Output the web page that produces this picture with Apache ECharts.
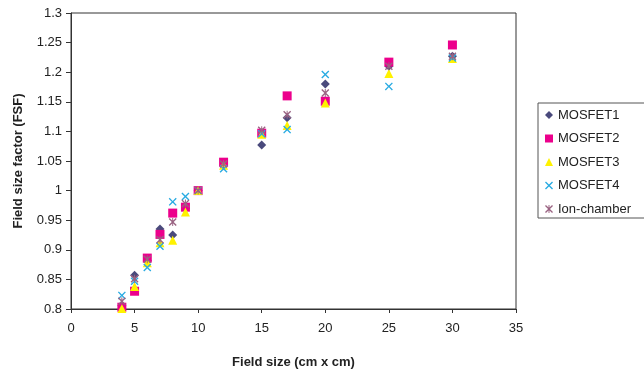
<!DOCTYPE html>
<html>
<head>
<meta charset="utf-8">
<script src="https://cdn.jsdelivr.net/npm/echarts@6/dist/echarts.min.js"></script>
<style>html,body{margin:0;padding:0;background:#fff;}#c{width:644px;height:375px;}</style>
</head>
<body>
<div id="c"></div>
<script>
var fieldSizes = [4, 5, 6, 7, 8, 9, 10, 12, 15, 17, 20, 25, 30];
var mosfet1 = [0.806, 0.857, 0.882, 0.935, 0.925, 0.970, 1.000, 1.042, 1.077, 1.123, 1.180, 1.210, 1.227];
var mosfet2 = [0.803, 0.830, 0.886, 0.926, 0.962, 0.972, 1.000, 1.048, 1.097, 1.160, 1.151, 1.217, 1.246];
var mosfet3 = [0.801, 0.838, 0.878, 0.912, 0.916, 0.964, 1.000, 1.043, 1.095, 1.110, 1.148, 1.198, 1.223];
var mosfet4 = [0.823, 0.847, 0.870, 0.906, 0.981, 0.990, 1.000, 1.037, 1.096, 1.103, 1.196, 1.176, 1.224];
var ionChamber = [0.813, 0.851, 0.884, 0.917, 0.947, 0.978, 1.000, 1.045, 1.102, 1.128, 1.165, 1.210, 1.227];
var seriesNames = ['MOSFET1', 'MOSFET2', 'MOSFET3', 'MOSFET4', 'Ion-chamber'];

function pairs(ys) { return fieldSizes.map(function (x, i) { return [x, ys[i]]; }); }

var xPath = 'path://M0,1.2 L1.2,0 L5,3.8 L8.8,0 L10,1.2 L6.2,5 L10,8.8 L8.8,10 L5,6.2 L1.2,10 L0,8.8 L3.8,5 Z';
var starPath = 'path://M0,1.2 L1.2,0 L5,3.8 L8.8,0 L10,1.2 L6.2,5 L10,8.8 L8.8,10 L5,6.2 L1.2,10 L0,8.8 L3.8,5 Z M4.4,0 L5.6,0 L5.6,10 L4.4,10 Z';

var font = 'Liberation Sans, Arial, sans-serif';
var chart = echarts.init(document.getElementById('c'), null, {renderer: 'canvas'});
function mk(name, data, symbol, size, color) {
  return {name: name, type: 'scatter', data: pairs(data), symbol: symbol, symbolSize: size,
    itemStyle: {color: color, opacity: 1}, emphasis: {disabled: true}};
}
chart.setOption({
  animation: false,
  backgroundColor: '#ffffff',
  grid: {left: 71, right: 128, top: 13, bottom: 66, show: true, borderColor: '#333', borderWidth: 1},
  xAxis: {
    type: 'value', min: 0, max: 35, interval: 5,
    name: 'Field size (cm x cm)', nameLocation: 'middle', nameGap: 47,
    nameTextStyle: {fontFamily: font, fontSize: 13, fontWeight: 'bold', color: '#222'},
    axisLine: {show: true, lineStyle: {color: '#333', width: 1}},
    axisTick: {show: true, inside: false, length: 4, lineStyle: {color: '#333'}},
    axisLabel: {fontFamily: font, fontSize: 13, color: '#222', margin: 13},
    splitLine: {show: false}
  },
  yAxis: {
    type: 'value', min: 0.8, max: 1.3, interval: 0.05,
    name: 'Field size factor (FSF)', nameLocation: 'middle', nameGap: 46, nameRotate: 90,
    nameTextStyle: {fontFamily: font, fontSize: 13, fontWeight: 'bold', color: '#222'},
    axisLine: {show: true, lineStyle: {color: '#333', width: 1}},
    axisTick: {show: true, inside: false, length: 5, lineStyle: {color: '#333'}},
    axisLabel: {fontFamily: font, fontSize: 13, color: '#222', margin: 9,
      formatter: function (v) { return String(Math.round(v * 100) / 100); }},
    splitLine: {show: false}
  },
  legend: {
    orient: 'vertical', left: 538, top: 103,
    width: 140,
    padding: [5, 40, 2, 7],
    borderColor: '#555', borderWidth: 1,
    itemWidth: 8, itemHeight: 8, itemGap: 9.5,
    textStyle: {fontFamily: font, fontSize: 13, color: '#222', lineHeight: 14},
    data: seriesNames
  },
  series: [
    mk(seriesNames[0], mosfet1, 'diamond', 9, '#4a4a7c'),
    mk(seriesNames[1], mosfet2, 'rect', 9, '#ec008c'),
    mk(seriesNames[2], mosfet3, 'triangle', 9, '#fff200'),
    mk(seriesNames[3], mosfet4, xPath, 8, '#29abe2'),
    mk(seriesNames[4], ionChamber, starPath, 8, '#9a6382')
  ]
});
</script>
</body>
</html>
